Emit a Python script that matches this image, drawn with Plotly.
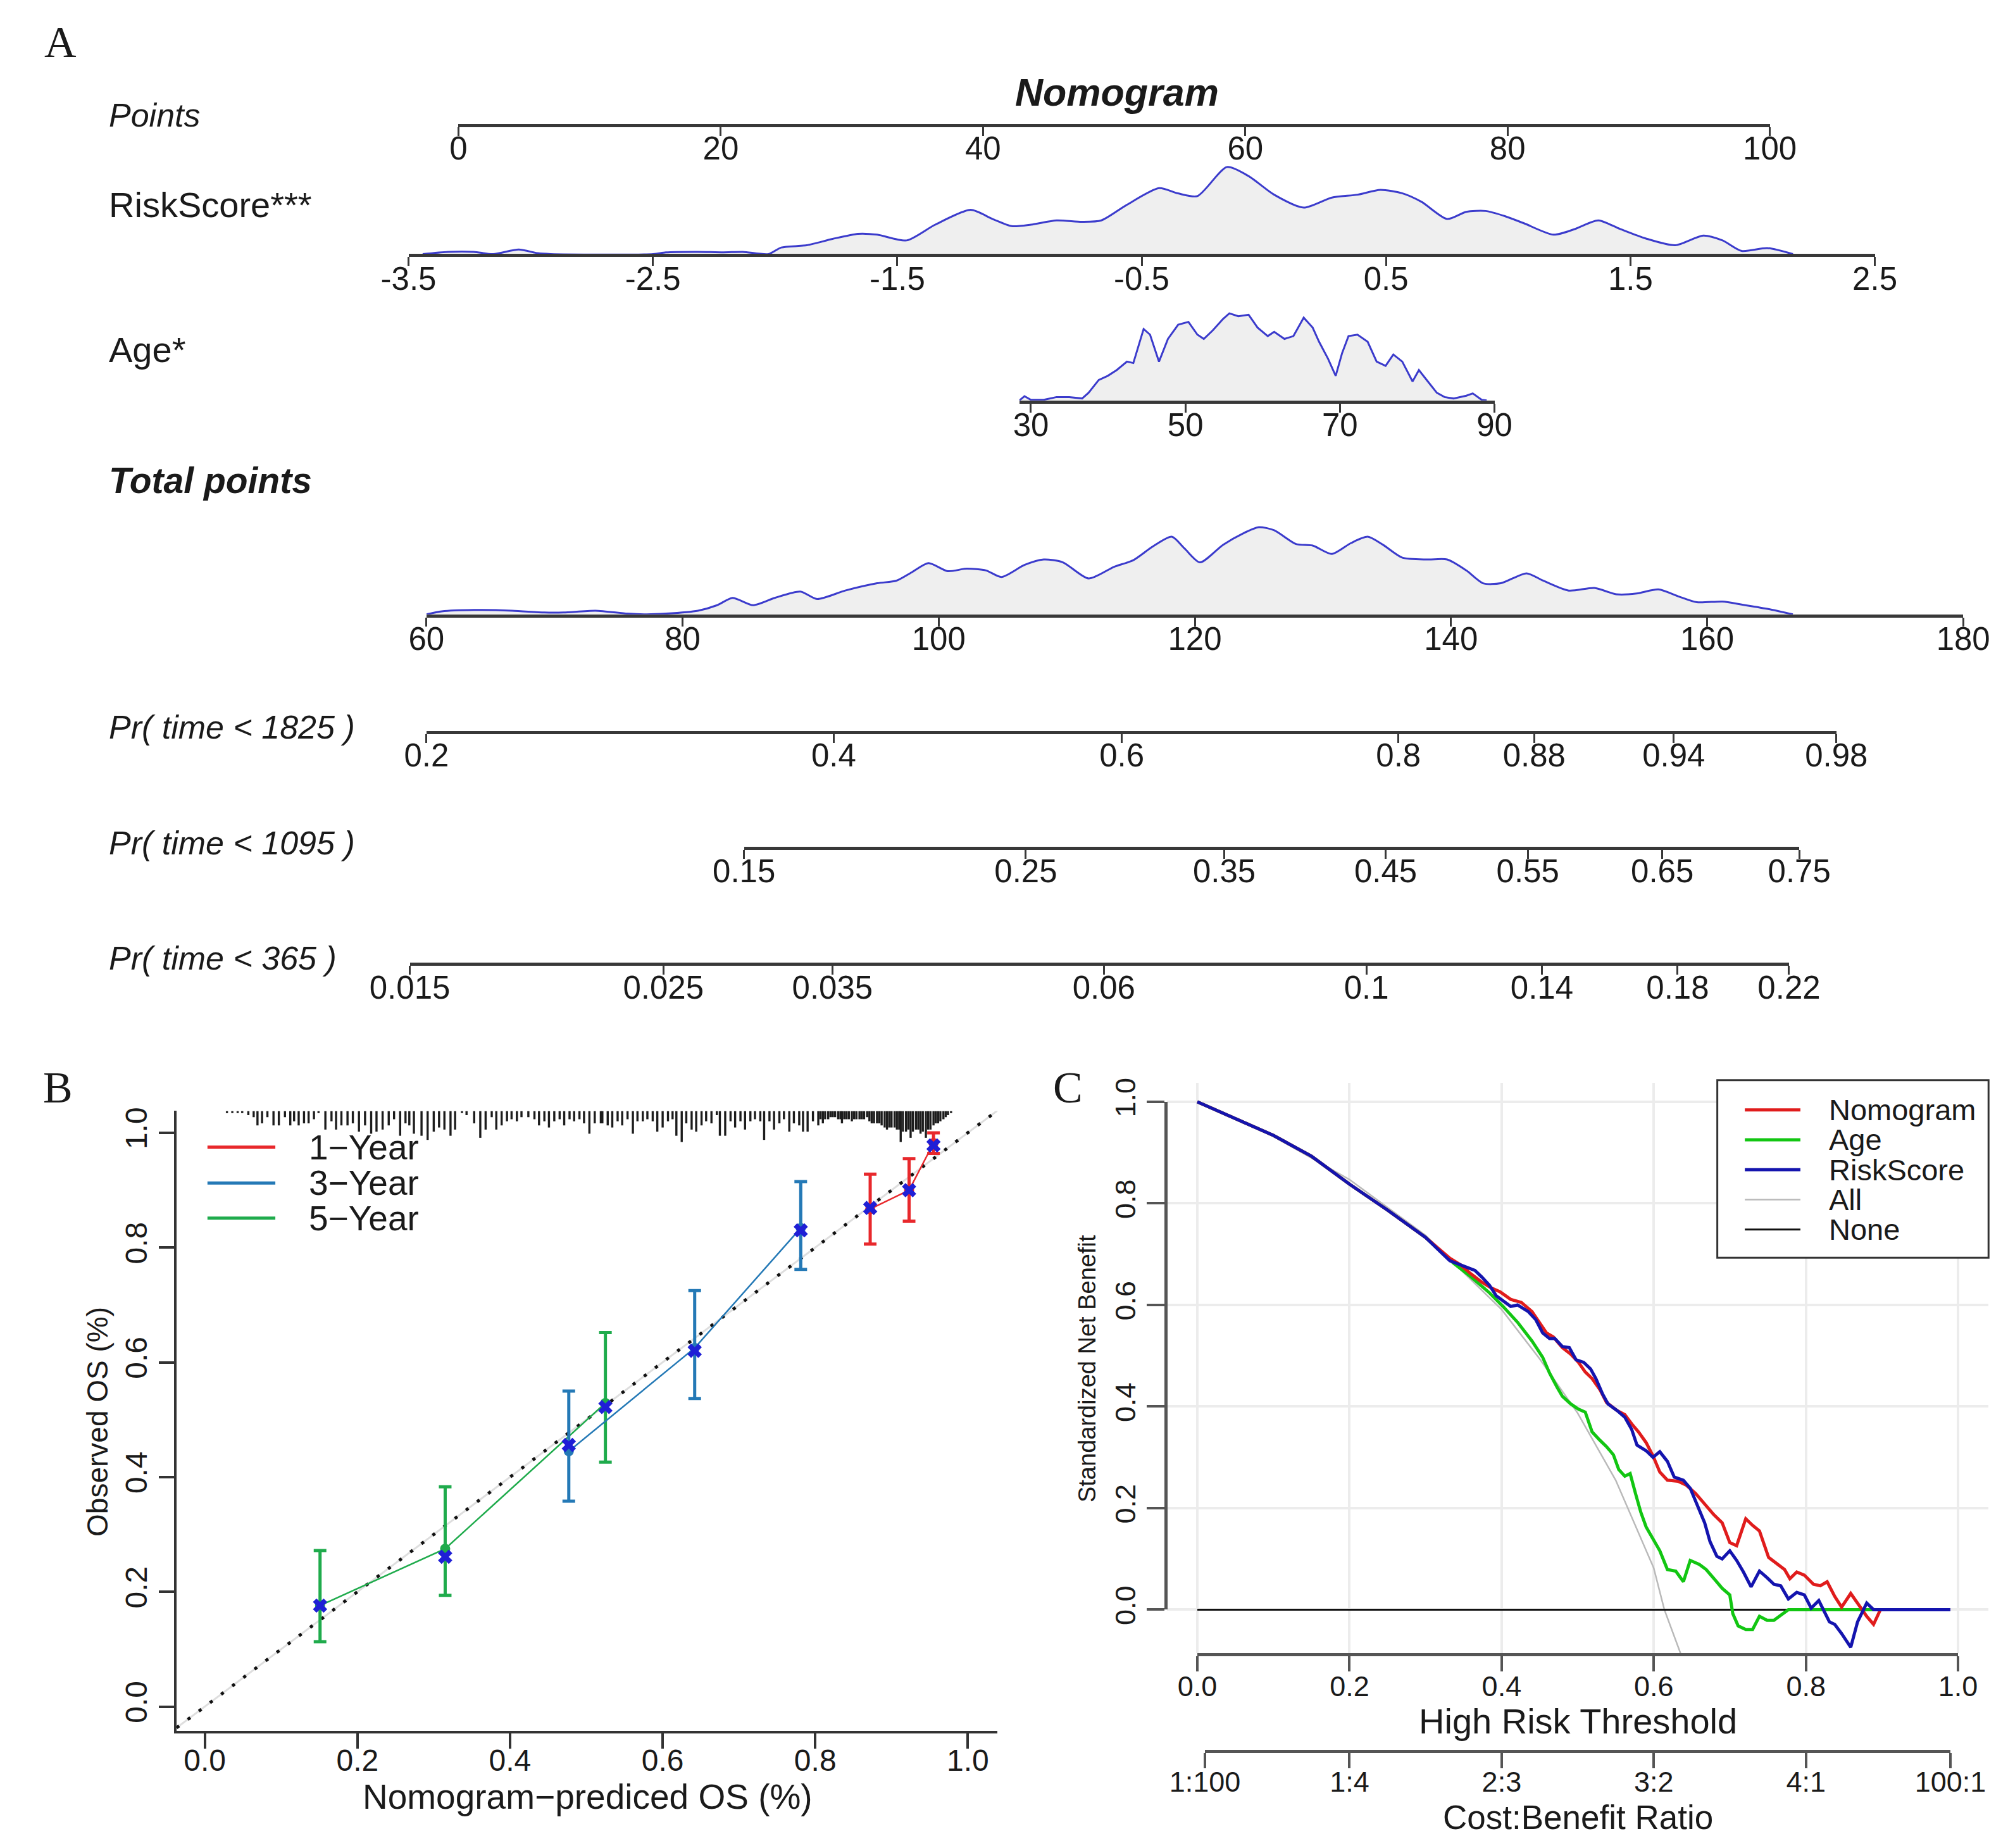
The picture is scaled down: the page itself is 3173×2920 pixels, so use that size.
import plotly.graph_objects as go

# ======================= DATA =======================
# --- Nomogram axes ---
points_ticks = [0, 20, 40, 60, 80, 100]
points_labels = ["0", "20", "40", "60", "80", "100"]
riskscore_ticks = [-3.5, -2.5, -1.5, -0.5, 0.5, 1.5, 2.5]
riskscore_labels = ["-3.5", "-2.5", "-1.5", "-0.5", "0.5", "1.5", "2.5"]
age_ticks = [30, 50, 70, 90]
age_labels = ["30", "50", "70", "90"]
total_ticks = [60, 80, 100, 120, 140, 160, 180]
total_labels = ["60", "80", "100", "120", "140", "160", "180"]

pr1825_labels = ["0.2", "0.4", "0.6", "0.8", "0.88", "0.94", "0.98"]
pr1825_points = [60.0, 91.8, 114.3, 135.9, 146.5, 157.4, 170.1]
pr1095_labels = ["0.15", "0.25", "0.35", "0.45", "0.55", "0.65", "0.75"]
pr1095_points = [84.8, 106.8, 122.3, 134.9, 146.0, 156.5, 167.2]
pr365_labels = ["0.015", "0.025", "0.035", "0.06", "0.1", "0.14", "0.18", "0.22"]
pr365_points = [58.7, 78.5, 91.7, 112.9, 133.4, 147.1, 157.7, 166.4]

# --- Nomogram densities (relative height, 1 = highest peak) ---
riskscore_x = [-3.442, -3.338, -3.233, -3.154, -3.049, -2.971, -2.918, -2.499, -2.447, -2.316,
               -2.211, -2.132, -2.027, -1.975, -1.870, -1.765, -1.661, -1.582, -1.462, -1.346,
               -1.200, -1.110, -1.032, -0.953, -0.848, -0.744, -0.665, -0.560, -0.429, -0.351,
               -0.272, -0.151, -0.062, 0.042, 0.163, 0.278, 0.383, 0.477, 0.566, 0.645,
               0.750, 0.828, 0.907, 0.986, 1.064, 1.185, 1.274, 1.368, 1.457, 1.562,
               1.683, 1.798, 1.877, 1.955, 2.060, 2.165]
riskscore_d = [0.0, 0.026, 0.026, 0.0, 0.052, 0.010, 0.0, 0.0, 0.020, 0.026,
               0.020, 0.026, 0.0, 0.075, 0.102, 0.174, 0.233, 0.223, 0.157, 0.336,
               0.508, 0.403, 0.321, 0.338, 0.387, 0.371, 0.387, 0.567, 0.757, 0.697,
               0.666, 1.0, 0.895, 0.682, 0.534, 0.649, 0.682, 0.738, 0.698, 0.600,
               0.403, 0.485, 0.495, 0.436, 0.354, 0.223, 0.289, 0.387, 0.289, 0.180,
               0.102, 0.213, 0.157, 0.036, 0.069, 0.0]

age_x = [28.5, 29.17, 30.0, 31.66, 33.32, 34.97, 36.63, 37.46, 38.78, 39.95,
         41.11, 42.43, 43.26, 44.59, 45.42, 46.58, 47.74, 49.06, 50.39, 51.55,
         52.38, 53.54, 54.86, 55.69, 56.85, 58.18, 59.34, 60.66, 61.49, 62.82,
         63.98, 65.31, 66.47, 67.30, 68.46, 69.45, 70.28, 71.11, 72.27, 73.59,
         74.75, 75.91, 76.91, 78.07, 79.40, 80.22, 81.38, 82.54, 83.54, 84.70,
         86.36, 87.19, 88.35, 89.0]
age_d = [0.0, 0.049, 0.007, 0.007, 0.039, 0.039, 0.023, 0.088, 0.235, 0.283,
         0.349, 0.446, 0.430, 0.821, 0.756, 0.446, 0.707, 0.870, 0.902, 0.756,
         0.707, 0.805, 0.935, 1.0, 0.967, 0.984, 0.837, 0.739, 0.788, 0.707,
         0.739, 0.951, 0.837, 0.674, 0.479, 0.283, 0.544, 0.739, 0.756, 0.674,
         0.446, 0.397, 0.528, 0.446, 0.218, 0.349, 0.218, 0.088, 0.039, 0.023,
         0.055, 0.081, 0.007, 0.0]

total_x = [60.0, 61.2, 63.7, 66.7, 69.2, 70.7, 73.2, 75.7, 77.2, 78.7,
           81.2, 82.7, 83.9, 85.5, 87.2, 89.2, 90.5, 92.7, 95.2, 96.7,
           97.9, 99.2, 100.7, 102.2, 103.7, 104.9, 106.7, 108.2, 109.7, 111.7,
           113.7, 115.2, 116.7, 118.2, 119.2, 120.4, 122.2, 123.7, 125.0, 126.2,
           127.9, 129.2, 130.7, 132.2, 133.5, 134.7, 136.2, 138.2, 139.7, 141.2,
           142.5, 143.9, 145.9, 147.2, 149.2, 151.2, 152.9, 154.5, 156.2, 157.7,
           159.2, 161.2, 162.7, 164.7, 166.7]
total_d = [0.0, 0.034, 0.050, 0.042, 0.021, 0.021, 0.042, 0.008, 0.0, 0.008,
           0.042, 0.105, 0.189, 0.105, 0.189, 0.261, 0.176, 0.273, 0.357, 0.387,
           0.483, 0.588, 0.496, 0.525, 0.504, 0.429, 0.567, 0.630, 0.597, 0.412,
           0.546, 0.622, 0.777, 0.891, 0.756, 0.597, 0.798, 0.924, 1.0, 0.966,
           0.807, 0.790, 0.693, 0.819, 0.891, 0.798, 0.651, 0.630, 0.630, 0.504,
           0.357, 0.357, 0.471, 0.387, 0.273, 0.303, 0.231, 0.239, 0.286, 0.210,
           0.139, 0.147, 0.113, 0.063, 0.0]

# --- Calibration (panel B) ---
cal_ticks = [0.0, 0.2, 0.4, 0.6, 0.8, 1.0]
cal_tick_labels = ["0.0", "0.2", "0.4", "0.6", "0.8", "1.0"]
cal_groups = ["1−Year", "3−Year", "5−Year"]
cal1_pred = [0.872, 0.923, 0.955]
cal1_obs = [0.867, 0.900, 0.982]
cal1_lo = [0.806, 0.846, 0.964]
cal1_hi = [0.928, 0.955, 1.000]
cal1_km = [0.869, 0.900, 0.978]
cal3_pred = [0.477, 0.642, 0.781]
cal3_obs = [0.445, 0.625, 0.834]
cal3_lo = [0.358, 0.537, 0.762]
cal3_hi = [0.550, 0.725, 0.915]
cal3_km = [0.456, 0.620, 0.830]
cal5_pred = [0.151, 0.315, 0.525]
cal5_obs = [0.176, 0.275, 0.529]
cal5_lo = [0.113, 0.194, 0.426]
cal5_hi = [0.272, 0.383, 0.652]
cal5_km = [0.176, 0.261, 0.522]
ideal_line = [-0.037, 1.039]

# distribution of predicted values (rug at top of panel B)
rug_pred = [0.029, 0.036, 0.043, 0.049, 0.057, 0.064, 0.069, 0.075, 0.082, 0.090,
            0.097, 0.105, 0.112, 0.117, 0.123, 0.130, 0.136, 0.143, 0.149, 0.158,
            0.166, 0.172, 0.179, 0.187, 0.194, 0.202, 0.210, 0.218, 0.225, 0.233,
            0.241, 0.248, 0.256, 0.263, 0.268, 0.274, 0.284, 0.292, 0.300, 0.307,
            0.314, 0.322, 0.328, 0.337, 0.343, 0.353, 0.361, 0.368, 0.376, 0.382,
            0.389, 0.396, 0.402, 0.409, 0.415, 0.424, 0.432, 0.438, 0.445, 0.451,
            0.458, 0.465, 0.471, 0.478, 0.484, 0.491, 0.497, 0.504, 0.511, 0.519,
            0.521, 0.528, 0.534, 0.541, 0.547, 0.554, 0.561, 0.567, 0.574, 0.580,
            0.587, 0.593, 0.600, 0.607, 0.613, 0.618, 0.625, 0.631, 0.638, 0.644,
            0.651, 0.657, 0.664, 0.671, 0.675, 0.682, 0.689, 0.695, 0.702, 0.708,
            0.715, 0.721, 0.728, 0.733, 0.740, 0.746, 0.753, 0.759, 0.766, 0.772,
            0.779, 0.784, 0.790, 0.797, 0.804, 0.810, 0.817, 0.823, 0.830, 0.835,
            0.841, 0.848, 0.854, 0.861, 0.868, 0.874, 0.881, 0.887, 0.894, 0.900,
            0.907, 0.912, 0.919, 0.925, 0.932, 0.938, 0.945, 0.951, 0.958, 0.964,
            0.971, 0.978,
            0.807, 0.813, 0.820, 0.826, 0.833, 0.838, 0.844, 0.851,
            0.858, 0.864, 0.871, 0.877, 0.884, 0.891, 0.897, 0.904, 0.910, 0.915,
            0.922, 0.928, 0.935, 0.941, 0.948, 0.955, 0.961, 0.968, 0.974]
rug_count = [1, 1, 1, 1, 2, 3, 7, 6, 3, 7,
             7, 3, 7, 5, 7, 6, 6, 4, 1, 9,
             5, 9, 7, 7, 6, 10, 7, 11, 10, 9,
             7, 4, 12, 6, 7, 11, 12, 14, 10, 8,
             9, 12, 9, 1, 2, 6, 13, 9, 3, 9,
             7, 5, 4, 5, 3, 3, 4, 7, 5, 8,
             5, 4, 7, 4, 5, 4, 6, 11, 6, 6,
             6, 7, 8, 5, 7, 4, 11, 5, 5, 4,
             5, 10, 8, 5, 4, 12, 15, 6, 9, 10,
             7, 5, 6, 2, 12, 12, 5, 8, 5, 9,
             5, 4, 5, 14, 5, 9, 6, 4, 10, 6,
             7, 10, 10, 5, 7, 6, 4, 3, 4, 6,
             4, 5, 4, 4, 3, 6, 6, 7, 9, 8,
             9, 15, 10, 13, 9, 11, 13, 9, 6, 5,
             3, 1,
             4, 4, 3, 3, 4, 4, 4, 4,
             4, 4, 5, 6, 6, 8, 8, 8, 9, 10,
             9, 10, 9, 10, 9, 7, 6, 4, 2]

# --- Decision curve (panel C) ---
dca_ticks = [0.0, 0.2, 0.4, 0.6, 0.8, 1.0]
dca_tick_labels = ["0.0", "0.2", "0.4", "0.6", "0.8", "1.0"]
cb_thresholds = [0.0099, 0.2, 0.4, 0.6, 0.8, 0.990]
cb_labels = ["1:100", "1:4", "2:3", "3:2", "4:1", "100:1"]
dca_names = ["Nomogram", "Age", "RiskScore", "All", "None"]

dca_common_thr = [0.0, 0.05, 0.10, 0.15, 0.20, 0.25, 0.30]
dca_common_nb = [1.0, 0.967, 0.934, 0.893, 0.838, 0.787, 0.733]

nomogram_thr = [0.332, 0.346, 0.360, 0.374, 0.386, 0.398, 0.412, 0.426, 0.440, 0.449,
                0.459, 0.468, 0.480, 0.491, 0.501, 0.510, 0.519, 0.529, 0.538, 0.552,
                0.562, 0.571, 0.580, 0.590, 0.599, 0.608, 0.618, 0.632, 0.643, 0.655,
                0.669, 0.679, 0.690, 0.700, 0.709, 0.721, 0.730, 0.739, 0.751, 0.763,
                0.772, 0.779, 0.788, 0.798, 0.810, 0.819, 0.828, 0.838, 0.847, 0.859,
                0.868, 0.880, 0.889, 0.898, 0.990]
nomogram_nb = [0.692, 0.679, 0.661, 0.645, 0.634, 0.626, 0.611, 0.605, 0.587, 0.568,
               0.545, 0.537, 0.516, 0.503, 0.487, 0.468, 0.455, 0.434, 0.408, 0.392,
               0.384, 0.366, 0.350, 0.329, 0.303, 0.271, 0.255, 0.253, 0.245, 0.229,
               0.205, 0.187, 0.171, 0.132, 0.126, 0.179, 0.166, 0.155, 0.103, 0.089,
               0.079, 0.061, 0.074, 0.068, 0.050, 0.047, 0.055, 0.026, 0.005, 0.032,
               0.013, -0.013, -0.029, 0.0, 0.0]

riskscore_thr = [0.332, 0.351, 0.365, 0.374, 0.384, 0.393, 0.402, 0.412, 0.421, 0.435,
                 0.445, 0.454, 0.463, 0.470, 0.480, 0.489, 0.498, 0.508, 0.517, 0.524,
                 0.533, 0.540, 0.552, 0.562, 0.571, 0.578, 0.590, 0.599, 0.608, 0.618,
                 0.627, 0.639, 0.648, 0.657, 0.667, 0.674, 0.683, 0.690, 0.700, 0.709,
                 0.718, 0.728, 0.739, 0.749, 0.758, 0.767, 0.777, 0.788, 0.798, 0.807,
                 0.817, 0.824, 0.831, 0.838, 0.847, 0.859, 0.868, 0.880, 0.889, 0.990]
riskscore_nb = [0.687, 0.676, 0.668, 0.655, 0.639, 0.618, 0.608, 0.597, 0.600, 0.587,
                0.571, 0.545, 0.534, 0.534, 0.518, 0.516, 0.492, 0.487, 0.474, 0.455,
                0.424, 0.405, 0.392, 0.379, 0.355, 0.324, 0.313, 0.300, 0.311, 0.292,
                0.261, 0.255, 0.239, 0.208, 0.171, 0.134, 0.105, 0.100, 0.116, 0.097,
                0.074, 0.045, 0.076, 0.063, 0.050, 0.047, 0.021, 0.034, 0.029, 0.003,
                0.018, -0.003, -0.024, -0.029, -0.047, -0.074, -0.024, 0.013, 0.0, 0.0]

age_thr = [0.337, 0.360, 0.384, 0.402, 0.421, 0.440, 0.454, 0.463, 0.473, 0.480,
           0.491, 0.501, 0.510, 0.519, 0.529, 0.538, 0.547, 0.554, 0.562, 0.569,
           0.576, 0.583, 0.590, 0.599, 0.608, 0.618, 0.629, 0.639, 0.648, 0.660,
           0.669, 0.681, 0.690, 0.700, 0.704, 0.711, 0.721, 0.730, 0.739, 0.749,
           0.758, 0.767, 0.777, 0.990]
age_nb = [0.682, 0.655, 0.624, 0.597, 0.566, 0.529, 0.497, 0.466, 0.438, 0.420,
          0.405, 0.395, 0.389, 0.350, 0.334, 0.321, 0.305, 0.276, 0.263, 0.268,
          0.229, 0.192, 0.163, 0.139, 0.116, 0.079, 0.076, 0.055, 0.097, 0.089,
          0.079, 0.058, 0.042, 0.029, -0.008, -0.032, -0.039, -0.039, -0.013, -0.021,
          -0.021, -0.011, 0.0, 0.0]

all_thr = [0.0, 0.1, 0.2, 0.3, 0.4, 0.45, 0.5, 0.55, 0.6, 0.614, 0.636]
all_nb = [1.0, 0.932, 0.847, 0.737, 0.591, 0.494, 0.387, 0.255, 0.082, 0.0, -0.089]
none_thr = [0.0, 0.99]
none_nb = [0.0, 0.0]

# ======================= LAYOUT HELPERS =======================
WR, HR = 1568.0, 1443.0          # reference grid (scaled to the 3173x2920 page)
OFF = 3.95                       # compensates the page's default body margin


def fx(p):
    return (p - OFF) / WR


def fy(p):
    return 1.0 - (p - OFF) / HR


FONT = "Liberation Sans, Arial, Helvetica, sans-serif"
SERIF = "Liberation Serif, Times New Roman, serif"
INK = "#1a1a1a"
NOMO_AXIS = "#383838"
DENS_LINE = "#3b3bcc"
DENS_FILL = "#efefef"
COL_1Y, COL_3Y, COL_5Y = "#e8282c", "#2479b6", "#1fab4c"
X_BLUE = "#1f1fd6"
C_RED, C_GREEN, C_BLUE, C_GRAY, C_BLACK = "#e01c1c", "#12c612", "#1414ae", "#b9b9b9", "#111111"

fig = go.Figure()
layout = {}
annotations = []
shapes = []


def key(prefix, i):
    return prefix + ("" if i == 1 else str(i))


def tp_px(v):                    # total points -> reference pixel
    return 333.0 + (v - 60.0) * 10.0


def txt(s, x, y, size, xanchor="center", angle=0, family=FONT, color=INK):
    annotations.append(dict(text=s, x=fx(x), y=fy(y), xref="paper", yref="paper",
                            showarrow=False, xanchor=xanchor, yanchor="middle",
                            textangle=angle, font=dict(family=family, size=size, color=color)))


NOMO_AMP = 68.0


def nomo_row(i, xl, xr, rng, line_y, tickvals, ticktext, dens=None):
    if dens is not None:
        ydom = [fy(line_y), fy(line_y - NOMO_AMP * 1.06)]
        yr = [0, 1.06]
    else:
        ydom = [fy(line_y), fy(line_y) + 0.004]
        yr = [0, 1]
    layout[key("xaxis", i)] = dict(
        domain=[fx(xl), fx(xr)], range=rng, anchor=key("y", i), side="bottom",
        showline=True, linecolor=NOMO_AXIS, linewidth=5, mirror=False,
        ticks="outside", ticklen=14, tickwidth=3, tickcolor=NOMO_AXIS,
        tickmode="array", tickvals=tickvals, ticktext=ticktext,
        tickfont=dict(family=FONT, size=51, color=INK), ticklabelstandoff=-24,
        showgrid=False, zeroline=False, fixedrange=True, automargin=False)
    layout[key("yaxis", i)] = dict(domain=ydom, range=yr, anchor=key("x", i),
                                   visible=False, fixedrange=True, automargin=False)
    if dens is not None:
        fig.add_trace(go.Scatter(
            x=dens[0], y=dens[1], xaxis=key("x", i), yaxis=key("y", i), mode="lines",
            line=dict(color=DENS_LINE, width=3, shape=dens[2], smoothing=0.7),
            fill="tozeroy", fillcolor=DENS_FILL, hoverinfo="skip", showlegend=False))
    else:
        fig.add_trace(go.Scatter(
            x=tickvals, y=[0] * len(tickvals), xaxis=key("x", i), yaxis=key("y", i),
            mode="markers", marker=dict(opacity=0), hoverinfo="skip", showlegend=False))


# ======================= PANEL A : NOMOGRAM =======================
txt("A", 47, 33, 70, family=SERIF)
txt("<b><i>Nomogram</i></b>", 872, 72, 61)

nomo_row(1, 358, 1382, [0, 100], 97, points_ticks, points_labels)
nomo_row(2, 319, 1464, [-3.5, 2.5], 198.4, riskscore_ticks, riskscore_labels,
         dens=(riskscore_x, riskscore_d, "spline"))
age_px = lambda v: 805.0 + (v - 30.0) * 6.033
nomo_row(3, age_px(28.5), age_px(90), [28.5, 90], 312.7, age_ticks, age_labels,
         dens=(age_x, age_d, "linear"))
nomo_row(4, tp_px(60), tp_px(180), [60, 180], 479.7, total_ticks, total_labels,
         dens=(total_x, total_d, "spline"))
nomo_row(5, tp_px(pr1825_points[0]), tp_px(pr1825_points[-1]),
         [pr1825_points[0], pr1825_points[-1]], 570.9, pr1825_points, pr1825_labels)
nomo_row(6, tp_px(pr1095_points[0]), tp_px(pr1095_points[-1]),
         [pr1095_points[0], pr1095_points[-1]], 661.2, pr1095_points, pr1095_labels)
nomo_row(7, tp_px(pr365_points[0]), tp_px(pr365_points[-1]),
         [pr365_points[0], pr365_points[-1]], 751.8, pr365_points, pr365_labels)

txt("<i>Points</i>", 84, 90, 52, xanchor="left")
txt("RiskScore***", 84, 160, 56, xanchor="left")
txt("Age*", 84, 273, 56, xanchor="left")
txt("<b><i>Total points</i></b>", 84, 375, 57, xanchor="left")
txt("<i>Pr( time &lt; 1825 )</i>", 84, 568, 52, xanchor="left")
txt("<i>Pr( time &lt; 1095 )</i>", 84, 658, 52, xanchor="left")
txt("<i>Pr( time &lt; 365 )</i>", 84, 748, 52, xanchor="left")

# ======================= PANEL B : CALIBRATION =======================
B_AX = "#333333"
b_axis = dict(showline=True, linecolor=B_AX, linewidth=4, mirror=False,
              ticks="outside", ticklen=24, tickwidth=4, tickcolor=B_AX,
              tickmode="array", tickvals=cal_ticks, ticktext=cal_tick_labels,
              tickfont=dict(family=FONT, size=48, color=INK),
              showgrid=False, zeroline=False, fixedrange=True, automargin=False)
layout["xaxis8"] = dict(b_axis, domain=[fx(137.9), fx(779.0)], range=[-0.037, 1.039],
                        anchor="y8", ticklabelstandoff=-22)
layout["yaxis8"] = dict(b_axis, domain=[fy(1351.4), fy(867.5)], range=[-0.042, 1.038],
                        anchor="x8", tickangle=-90)
B_TOP = 1.038

# ideal line (grey solid + black dots)
fig.add_trace(go.Scatter(x=ideal_line, y=ideal_line, xaxis="x8", yaxis="y8", mode="lines",
                         line=dict(color="#dedede", width=3), hoverinfo="skip", showlegend=False))
fig.add_trace(go.Scatter(x=ideal_line, y=ideal_line, xaxis="x8", yaxis="y8", mode="lines",
                         line=dict(color="#111111", width=5, dash="5px,17px"),
                         hoverinfo="skip", showlegend=False))

# rug of predicted values hanging from the top
rug_x, rug_y = [], []
for p, c in zip(rug_pred, rug_count):
    rug_x += [p, p, None]
    rug_y += [B_TOP, B_TOP - c * 0.0036, None]
fig.add_trace(go.Scatter(x=rug_x, y=rug_y, xaxis="x8", yaxis="y8", mode="lines",
                         line=dict(color="#1c1c1c", width=3.4), hoverinfo="skip", showlegend=False))

cal_sets = [
    (cal5_pred, cal5_obs, cal5_lo, cal5_hi, cal5_km, COL_5Y),
    (cal3_pred, cal3_obs, cal3_lo, cal3_hi, cal3_km, COL_3Y),
    (cal1_pred, cal1_obs, cal1_lo, cal1_hi, cal1_km, COL_1Y),
]
for pred, obs, lo, hi, km, col in cal_sets:
    fig.add_trace(go.Scatter(x=pred, y=obs, xaxis="x8", yaxis="y8", mode="lines",
                             line=dict(color=col, width=2.5), hoverinfo="skip", showlegend=False))
    fig.add_trace(go.Scatter(
        x=pred, y=obs, xaxis="x8", yaxis="y8", mode="markers",
        marker=dict(color=col, size=16, symbol="circle"),
        error_y=dict(type="data", symmetric=False,
                     array=[h - o for h, o in zip(hi, obs)],
                     arrayminus=[o - l for o, l in zip(obs, lo)],
                     color=col, thickness=5, width=10),
        hoverinfo="skip", showlegend=False))
for pred, obs, lo, hi, km, col in cal_sets:
    fig.add_trace(go.Scatter(x=pred, y=km, xaxis="x8", yaxis="y8", mode="markers",
                             marker=dict(color=X_BLUE, size=20, symbol="x", line=dict(width=0)),
                             hoverinfo="skip", showlegend=False))

txt("B", 45, 849, 70, family=SERIF)
txt("Nomogram−prediced OS (%)", 458.7, 1403, 55)
txt("Observed OS (%)", 76, 1110, 46, angle=-90)

# legend B
for k, (lab, col) in enumerate(zip(cal_groups, [COL_1Y, COL_3Y, COL_5Y])):
    yy = [895.7, 923.8, 951.2][k]
    shapes.append(dict(type="line", xref="paper", yref="paper", x0=fx(162), x1=fx(215),
                       y0=fy(yy), y1=fy(yy), line=dict(color=col, width=5)))
    txt(lab, 240, yy, 55, xanchor="left")

# ======================= PANEL C : DECISION CURVE =======================
C_AX = "#555555"
C_BOTTOM, C_TOP = 1291.0, 845.3
layout["xaxis9"] = dict(domain=[fx(911.2), fx(1552.7)], range=[-0.04, 1.04], anchor="y9",
                        showgrid=True, gridcolor="#ececec", gridwidth=4,
                        tickmode="array", tickvals=dca_ticks, showticklabels=False, ticks="",
                        showline=False, zeroline=False, fixedrange=True, automargin=False)
layout["yaxis9"] = dict(domain=[fy(C_BOTTOM), fy(C_TOP)], range=[-0.086, 1.038], anchor="x9",
                        showgrid=True, gridcolor="#ececec", gridwidth=4,
                        tickmode="array", tickvals=dca_ticks, showticklabels=False, ticks="",
                        showline=False, zeroline=False, fixedrange=True, automargin=False)

c_axis = dict(showline=True, linecolor=C_AX, linewidth=5, ticks="outside", ticklen=24,
              tickwidth=4, tickcolor=C_AX, tickmode="array",
              tickfont=dict(family=FONT, size=45, color=INK),
              showgrid=False, zeroline=False, fixedrange=True, automargin=False)
C_X0, C_PX = 935.0, 594.0
layout["xaxis10"] = dict(c_axis, domain=[fx(C_X0), fx(C_X0 + C_PX)], range=[0, 1], anchor="y10",
                         tickvals=dca_ticks, ticktext=dca_tick_labels, ticklabelstandoff=-15)
layout["yaxis10"] = dict(domain=[fy(C_BOTTOM), fy(C_BOTTOM) + 0.003], range=[0, 1], anchor="x10",
                         visible=False, fixedrange=True)
layout["xaxis11"] = dict(c_axis, domain=[fx(C_X0 + cb_thresholds[0] * C_PX),
                                         fx(C_X0 + cb_thresholds[-1] * C_PX)],
                         range=[cb_thresholds[0], cb_thresholds[-1]], anchor="y11",
                         tickvals=cb_thresholds, ticktext=cb_labels, ticklabelstandoff=-17)
layout["yaxis11"] = dict(domain=[fy(1366.6), fy(1366.6) + 0.003], range=[0, 1], anchor="x11",
                         visible=False, fixedrange=True)
layout["xaxis12"] = dict(domain=[fx(911.6), fx(911.6) + 0.003], range=[0, 1], anchor="y12",
                         visible=False, fixedrange=True)
layout["yaxis12"] = dict(c_axis, domain=[fy(1256.9), fy(860.3)], range=[0, 1], anchor="x12",
                         side="left", tickvals=dca_ticks, ticktext=dca_tick_labels,
                         tickangle=-90, ticklen=28)

for xa, ya, xs, ys in [("x10", "y10", dca_ticks, [0] * 6),
                       ("x11", "y11", cb_thresholds, [0] * 6),
                       ("x12", "y12", [0, 0], [0, 1])]:
    fig.add_trace(go.Scatter(x=xs, y=ys, xaxis=xa, yaxis=ya, mode="markers",
                             marker=dict(opacity=0), hoverinfo="skip", showlegend=False))

fig.add_trace(go.Scatter(x=all_thr, y=all_nb, xaxis="x9", yaxis="y9", mode="lines",
                         line=dict(color=C_GRAY, width=2.5), hoverinfo="skip", showlegend=False))
fig.add_trace(go.Scatter(x=none_thr, y=none_nb, xaxis="x9", yaxis="y9", mode="lines",
                         line=dict(color=C_BLACK, width=3), hoverinfo="skip", showlegend=False))
for thr, nb, col in [(age_thr, age_nb, C_GREEN),
                     (nomogram_thr, nomogram_nb, C_RED),
                     (riskscore_thr, riskscore_nb, C_BLUE)]:
    fig.add_trace(go.Scatter(x=dca_common_thr + thr, y=dca_common_nb + nb, xaxis="x9", yaxis="y9",
                             mode="lines", line=dict(color=col, width=5),
                             hoverinfo="skip", showlegend=False))

txt("C", 834, 849, 70, family=SERIF)
txt("High Risk Threshold", 1232, 1344, 56)
txt("Cost:Benefit Ratio", 1232, 1419, 53)
txt("Standardized Net Benefit", 849.3, 1068.6, 38, angle=-90)

# legend C (boxed)
shapes.append(dict(type="rect", xref="paper", yref="paper", x0=fx(1341), x1=fx(1552.8),
                   y0=fy(982.1), y1=fy(843.4), line=dict(color="#333333", width=3),
                   fillcolor="white", layer="above"))
leg_styles = [(C_RED, 5), (C_GREEN, 5), (C_BLUE, 5), (C_GRAY, 2.5), (C_BLACK, 3)]
for k, (lab, (col, w)) in enumerate(zip(dca_names, leg_styles)):
    yy = [866.7, 890.0, 913.4, 936.7, 960.0][k]
    shapes.append(dict(type="line", xref="paper", yref="paper", x0=fx(1362.5), x1=fx(1405.9),
                       y0=fy(yy), y1=fy(yy), line=dict(color=col, width=w), layer="above"))
    txt(lab, 1427.3, yy, 47, xanchor="left")

# ======================= FINAL =======================
fig.update_layout(
    width=3173, height=2920,
    margin=dict(l=0, r=0, t=0, b=0, pad=0, autoexpand=False),
    paper_bgcolor="white", plot_bgcolor="rgba(0,0,0,0)",
    showlegend=False, annotations=annotations, shapes=shapes,
    font=dict(family=FONT, color=INK), **layout)

fig.write_html("out.html")
